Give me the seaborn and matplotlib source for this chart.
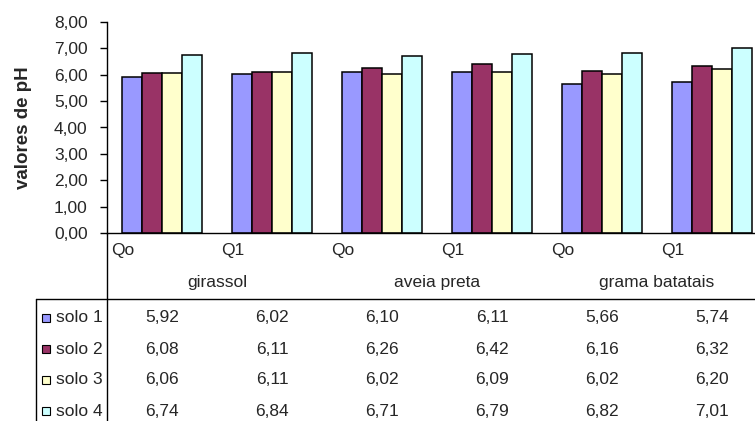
import numpy as np
import pandas as pd
import seaborn as sns
import matplotlib
matplotlib.use('Agg')
import matplotlib.pyplot as plt
from matplotlib.transforms import blended_transform_factory
from matplotlib.lines import Line2D
from matplotlib.patches import Rectangle

culturas = ['girassol', 'aveia preta', 'grama batatais']
doses = ['Qo', 'Q1']
solos = ['solo 1', 'solo 2', 'solo 3', 'solo 4']
solo1 = [5.92, 6.02, 6.10, 6.11, 5.66, 5.74]
solo2 = [6.08, 6.11, 6.26, 6.42, 6.16, 6.32]
solo3 = [6.06, 6.11, 6.02, 6.09, 6.02, 6.20]
solo4 = [6.74, 6.84, 6.71, 6.79, 6.82, 7.01]
cores = ['#9999FF', '#993366', '#FFFFCC', '#CCFFFF']
yticks = [0, 1, 2, 3, 4, 5, 6, 7, 8]

W, H = 755, 421


def fx(px):
    return px / W


def fy(px):
    return 1 - px / H


def virgula(v):
    return '{:.2f}'.format(v).replace('.', ',')


grupos = ['{} {}'.format(c, d) for c in culturas for d in doses]
df = pd.DataFrame({
    'grupo': grupos * 4,
    'solo': np.repeat(solos, len(grupos)),
    'valor': solo1 + solo2 + solo3 + solo4,
})

sns.set_style('white')
plt.rcParams['font.family'] = ['Liberation Sans', 'DejaVu Sans']
fs = 12.5

fig = plt.figure(figsize=(W / 100, H / 100), dpi=100)
ax = fig.add_axes([fx(107), fy(233), fx(648), (233 - 22) / H])

group_px = 110
sns.barplot(data=df, x='grupo', y='valor', hue='solo', order=grupos,
            hue_order=solos, palette=cores, saturation=1, width=80 / group_px, gap=0,
            edgecolor='black', linewidth=1.1, legend=False, ax=ax)

ax.set_xlim(-0.5, -0.5 + 648 / group_px)
ax.set_ylim(0, 8)
ax.set_yticks(yticks)
ax.set_yticklabels([virgula(v) for v in yticks], fontsize=fs)
ax.tick_params(axis='y', direction='out', length=5, width=1, color='black', pad=9, left=True)
ax.set_xticks([])
ax.set_xlabel('')
ax.set_ylabel('')
for s in ['top', 'right']:
    ax.spines[s].set_visible(False)
for s in ['left', 'bottom']:
    ax.spines[s].set_color('black')
    ax.spines[s].set_linewidth(1)

fig.text(fx(24), fy(128), 'valores de pH', rotation=90, ha='center', va='center',
         fontsize=13.5, fontweight='bold')

tr = blended_transform_factory(ax.transData, fig.transFigure)

# category labels (two levels)
for i, g in enumerate(grupos):
    ax.text(i - 0.5 + 4 / group_px, fy(250), doses[i % 2], transform=tr,
            ha='left', va='center', fontsize=fs)
for j, c in enumerate(culturas):
    ax.text(2 * j + 0.5, fy(283), c, transform=tr, ha='center', va='center', fontsize=fs)

# table lines
fig.add_artist(Line2D([fx(107), fx(107)], [fy(233), 0], color='black', lw=1,
                      transform=fig.transFigure))
fig.add_artist(Line2D([fx(36), fx(36)], [fy(299), 0], color='black', lw=1,
                      transform=fig.transFigure))
fig.add_artist(Line2D([fx(36), 1], [fy(299), fy(299)], color='black', lw=1,
                      transform=fig.transFigure))

# table rows with legend keys
linhas_y = [318, 349, 380, 411]
for k, (nome, vals) in enumerate(zip(solos, [solo1, solo2, solo3, solo4])):
    y = linhas_y[k]
    fig.add_artist(Rectangle((fx(41.5), fy(y + 4)), fx(8), 8 / H, facecolor=cores[k],
                             edgecolor='black', lw=0.8, transform=fig.transFigure))
    fig.text(fx(56), fy(y), nome, ha='left', va='center', fontsize=fs)
    for i, v in enumerate(vals):
        ax.text(i, fy(y), virgula(v), transform=tr, ha='center', va='center', fontsize=fs)

fig.savefig('out.png', dpi=100)
